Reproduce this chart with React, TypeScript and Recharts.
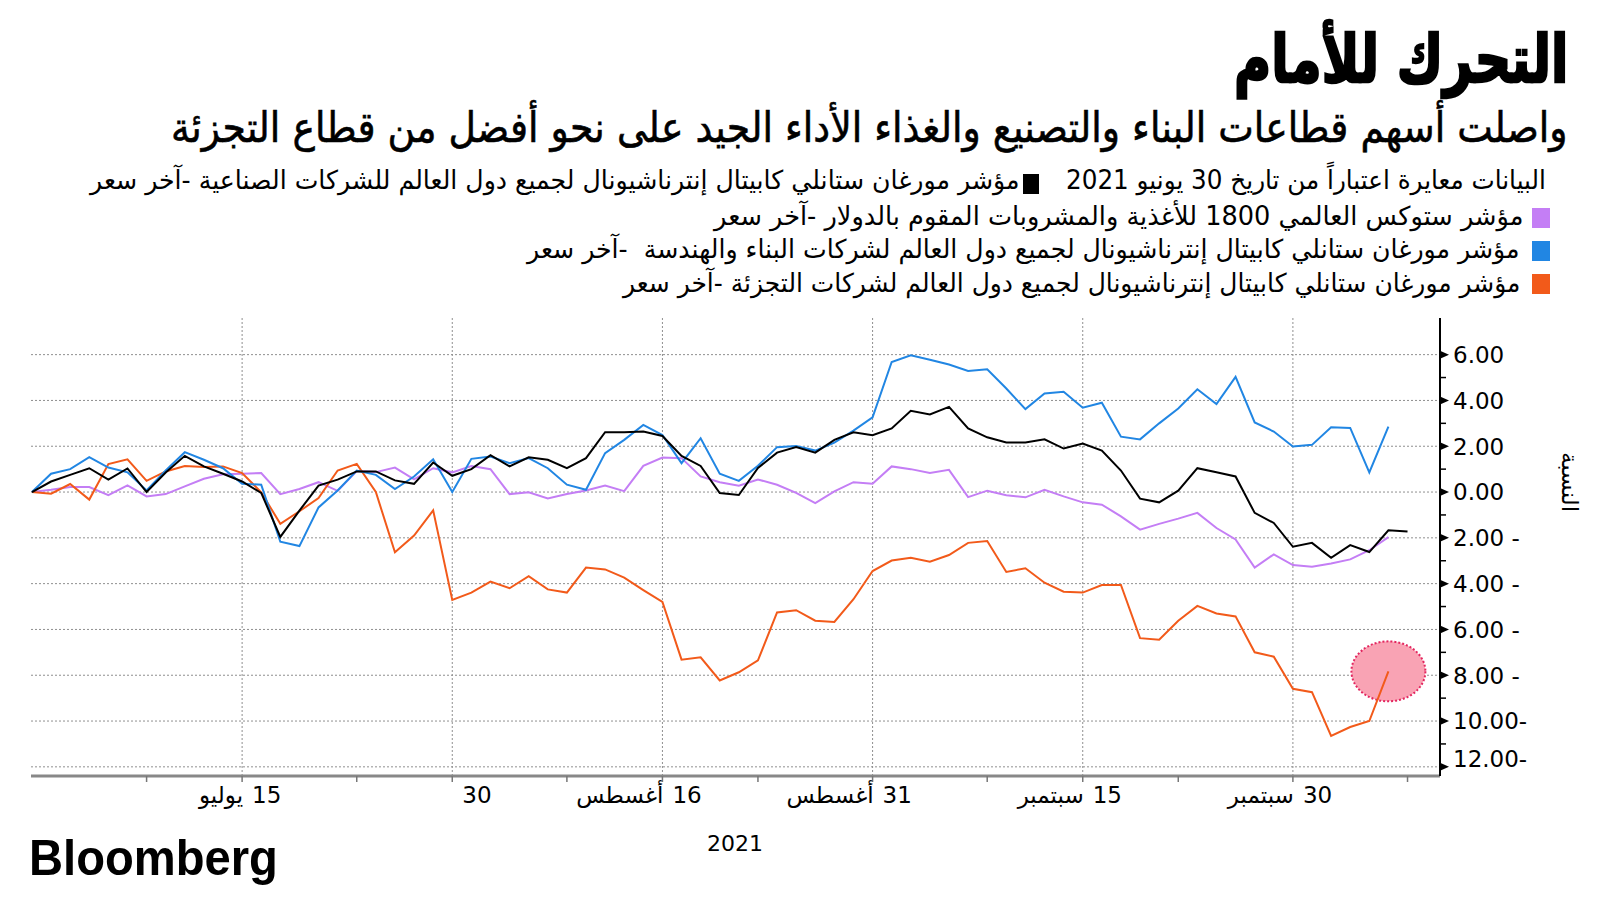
import React, { useLayoutEffect, useRef, useState } from "react";
import { LineChart, Line, XAxis, YAxis, CartesianGrid, ReferenceDot } from "recharts";

const FONT = "'DejaVu Sans', sans-serif";

// % change since 30 Jun 2021, one value per trading day (index 0 = 30 Jun)
const industrials = [
  0, 0.46, 0.75, 1.04, 0.54, 1.03, 0.0, 0.85, 1.58, 1.12, 0.8, 0.46, -0.04, -1.96, -0.81, 0.28, 0.54, 0.9, 0.9, 0.51,
  0.36, 1.29, 0.71, 1.0, 1.61, 1.12, 1.52, 1.41, 1.04, 1.48, 2.61, 2.61, 2.64, 2.45, 1.58, 1.14, -0.04, -0.13, 1.05,
  1.72, 1.96, 1.72, 2.28, 2.61, 2.48, 2.78, 3.55, 3.39, 3.72, 2.78, 2.39, 2.16, 2.16, 2.3, 1.9, 2.12, 1.81, 0.94,
  -0.29, -0.45, 0.06, 1.04, 0.86, 0.68, -0.91, -1.35, -2.39, -2.22, -2.87, -2.32, -2.62, -1.67, -1.72,
];
const foodBev = [
  0, 0.1, 0.22, 0.22, -0.14, 0.29, -0.19, -0.09, 0.25, 0.58, 0.78, 0.8, 0.83, -0.09, 0.13, 0.43, 0.05, 0.92, 0.87, 1.07,
  0.55, 1.04, 0.86, 1.14, 1.0, -0.09, -0.01, -0.28, -0.09, 0.07, 0.28, 0.04, 1.14, 1.51, 1.48, 0.68, 0.43, 0.28, 0.55,
  0.32, -0.04, -0.48, 0.03, 0.43, 0.36, 1.12, 1.0, 0.83, 0.97, -0.22, 0.06, -0.14, -0.23, 0.1, -0.19, -0.45, -0.55,
  -1.06, -1.64, -1.39, -1.16, -0.91, -1.57, -2.07, -3.3, -2.72, -3.19, -3.26, -3.12, -2.94, -2.54, -1.97,
];
const construction = [
  0, 0.8, 1.0, 1.52, 1.07, 0.86, 0.07, 0.94, 1.74, 1.41, 1.04, 0.36, 0.32, -2.17, -2.36, -0.67, 0.07, 0.94, 0.75, 0.13,
  0.68, 1.43, 0, 1.45, 1.55, 1.26, 1.48, 1.04, 0.32, 0.1, 1.7, 2.28, 2.93, 2.49, 1.26, 2.35, 0.8, 0.49, 1.15,
  1.96, 2.01, 1.81, 2.16, 2.68, 3.26, 5.68, 5.97, 5.78, 5.57, 5.29, 5.36, 4.52, 3.62, 4.3, 4.38, 3.68, 3.9, 2.42,
  2.3, 3.0, 3.65, 4.49, 3.84, 5.03, 3.04, 2.64, 1.99, 2.06, 2.83, 2.8, 0.86, 2.86,
];
const retail = [
  0, -0.07, 0.35, -0.33, 1.22, 1.43, 0.49, 0.9, 1.14, 1.09, 1.12, 0.83, -0.01, -1.39, -0.84, -0.26, 0.94, 1.23, 0.0, -2.63,
  -1.9, -0.8, -4.71, -4.39, -3.91, -4.2, -3.67, -4.25, -4.39, -3.3, -3.38, -3.74, -4.28, -4.8, -7.32, -7.22, -8.23, -7.87, -7.35,
  -5.26, -5.16, -5.62, -5.67, -4.68, -3.45, -2.99, -2.87, -3.04, -2.75, -2.22, -2.14, -3.49, -3.33, -3.96, -4.35, -4.39,
  -4.06, -4.06, -6.38, -6.45, -5.62, -4.97, -5.3, -5.43, -7.0, -7.19, -8.59, -8.74, -10.65, -10.26, -10.0, -7.83,
];

const xMajorTicks = [11, 22, 33, 44, 55, 66];
const xMajorDays = ["15", "30", "16", "31", "15", "30"];
const xMajorMonths = ["يوليو", "", "أغسطس", "أغسطس", "سبتمبر", "سبتمبر"];
const xMinorTicks = [6, 17, 28, 38, 50, 60, 72];
const yTicks = [6, 5, 4, 3, 2, 1, 0, -1, -2, -3, -4, -5, -6, -7, -8, -9, -10, -11, -12];
const yGrid = [6, 4, 2, 0, -2, -4, -6, -8, -10, -12];

const legendNames = [
  "مؤشر مورغان ستانلي كابيتال إنترناشيونال لجميع دول العالم للشركات الصناعية -آخر سعر",
  "مؤشر ستوكس العالمي 1800 للأغذية والمشروبات المقوم بالدولار -آخر سعر",
  "مؤشر مورغان ستانلي كابيتال إنترناشيونال لجميع دول العالم لشركات البناء والهندسة  -آخر سعر",
  "مؤشر مورغان ستانلي كابيتال إنترناشيونال لجميع دول العالم لشركات التجزئة -آخر سعر",
];
const legendColors = ["#000000", "#c47ef5", "#2186e3", "#f25a1a"];

const data = industrials.map((v, i) => ({
  i,
  industrials: v,
  foodBev: foodBev[i],
  construction: construction[i],
  retail: retail[i],
}));

function FitText({ text, x, y, width, size, bold = false, stroke = 0, anchor = "right", family = FONT, dir = "rtl" }: any) {
  const ref = useRef<HTMLSpanElement>(null);
  const [scale, setScale] = useState(1);
  useLayoutEffect(() => {
    const w = ref.current ? ref.current.offsetWidth : 0;
    if (w > 0) setScale(width / w);
  }, [text, width, size]);
  const pos = anchor === "right" ? { right: 1600 - x } : { left: x };
  return (
    <span
      ref={ref}
      dir={dir}
      style={{
        position: "absolute",
        top: y - size * 0.7,
        ...pos,
        height: size * 1.4,
        lineHeight: `${size * 1.4}px`,
        fontSize: size,
        fontWeight: bold ? 700 : 400,
        fontFamily: family,
        whiteSpace: "pre",
        color: "#000",
        WebkitTextStroke: stroke ? `${stroke}px #000` : undefined,
        transform: `scaleX(${scale})`,
        transformOrigin: anchor === "right" ? "right center" : "left center",
      }}
    >
      {text}
    </span>
  );
}

function XTick({ x, y, payload }: any) {
  const k = xMajorTicks.indexOf(payload.value);
  return (
    <g>
      <line x1={x} x2={x} y1={y} y2={y + 6} stroke="#777" strokeWidth={1.5} />
      {k >= 0 && (
        <text x={x + 10} y={y + 27} fontSize={23} fontFamily={FONT} fill="#000" textAnchor="start">
          {xMajorDays[k]}
        </text>
      )}
      {k >= 0 && xMajorMonths[k] && (
        <text x={x + 1} y={y + 27} fontSize={23} fontFamily={FONT} fill="#000" textAnchor="end">
          {xMajorMonths[k]}
        </text>
      )}
    </g>
  );
}

function YTick({ x, y, payload }: any) {
  const v = payload.value;
  if (v % 2 !== 0) {
    return <line x1={x} x2={x + 6} y1={y} y2={y} stroke="#000" strokeWidth={1.5} />;
  }
  const ly = v === -12 ? y - 8 : y;
  const a = Math.abs(v).toFixed(2);
  const label = v < 0 ? (Math.abs(v) >= 10 ? `${a}-` : `${a} -`) : a;
  return (
    <g>
      <polygon points={`${x},${y - 4} ${x + 9},${y} ${x},${y + 4}`} fill="#000" />
      <text x={x + 13} y={ly} dy="0.36em" fontSize={23} fontFamily={FONT} fill="#000" textAnchor="start">
        {label}
      </text>
    </g>
  );
}

export default function App() {
  return (
    <div style={{ position: "absolute", left: 0, top: 0, width: 1600, height: 900, background: "#fff", overflow: "hidden", fontFamily: FONT }}>
      <div style={{ position: "absolute", left: 0, top: 0 }}>
        <LineChart width={1600} height={900} data={data} margin={{ top: 318, right: 60, bottom: 64, left: 31 }}>
          <CartesianGrid
            horizontalValues={yGrid}
            verticalValues={xMajorTicks}
            stroke="#8f8f8f"
            strokeDasharray="2 2"
          />
          <XAxis
            dataKey="i"
            type="number"
            domain={[-0.05, 73.7]}
            ticks={[...xMinorTicks, ...xMajorTicks].sort((a, b) => a - b)}
            interval={0}
            tick={<XTick />}
            tickLine={false}
            tickSize={0}
            tickMargin={0}
            height={60}
            axisLine={{ stroke: "#888", strokeWidth: 3 }}
            allowDataOverflow
          />
          <YAxis
            orientation="right"
            type="number"
            domain={[-12.4, 7.6]}
            ticks={yTicks}
            interval={0}
            tick={<YTick />}
            tickLine={false}
            tickSize={0}
            tickMargin={0}
            width={100}
            axisLine={{ stroke: "#000", strokeWidth: 2 }}
            allowDataOverflow
          />
          <ReferenceDot
            x={71}
            y={retail[71]}
            zIndex={300}
            shape={(p: any) => (
              <ellipse cx={p.cx} cy={p.cy} rx={37} ry={30} fill="#f9a3b4" stroke="#e3265f" strokeWidth={2} strokeDasharray="2 2" />
            )}
          />
          <Line dataKey="foodBev" stroke={legendColors[1]} strokeWidth={2} dot={false} isAnimationActive={false} />
          <Line dataKey="retail" stroke={legendColors[3]} strokeWidth={2} dot={false} isAnimationActive={false} />
          <Line dataKey="construction" stroke={legendColors[2]} strokeWidth={2} dot={false} isAnimationActive={false} />
          <Line dataKey="industrials" stroke={legendColors[0]} strokeWidth={2} dot={false} isAnimationActive={false} />
        </LineChart>
      </div>

      <FitText text="التحرك للأمام" x={1568} y={60} width={334} size={66} bold stroke={2.5} />
      <FitText text="واصلت أسهم قطاعات البناء والتصنيع والغذاء الأداء الجيد على نحو أفضل من قطاع التجزئة" x={1568} y={128} width={1397} size={42} stroke={0.6} />

      <FitText text="البيانات معايرة اعتباراً من تاريخ 30 يونيو 2021" x={1546} y={180} width={480} size={26} />
      <div style={{ position: "absolute", left: 1023, top: 174, width: 16, height: 20, background: legendColors[0] }} />
      <FitText text={legendNames[0]} x={1020} y={180} width={930} size={26} />

      <div style={{ position: "absolute", left: 1532, top: 208, width: 18, height: 20, background: legendColors[1] }} />
      <FitText text={legendNames[1]} x={1523} y={216} width={809} size={26} />
      <div style={{ position: "absolute", left: 1532, top: 241, width: 18, height: 20, background: legendColors[2] }} />
      <FitText text={legendNames[2]} x={1520} y={249} width={993} size={26} />
      <div style={{ position: "absolute", left: 1532, top: 274, width: 18, height: 20, background: legendColors[3] }} />
      <FitText text={legendNames[3]} x={1520} y={283} width={897} size={26} />

      <div
        dir="rtl"
        style={{
          position: "absolute",
          left: 1570,
          top: 482,
          transform: "translate(-50%, -50%) rotate(90deg)",
          fontSize: 23,
          fontFamily: FONT,
          whiteSpace: "nowrap",
          color: "#000",
        }}
      >
        النسبة
      </div>

      <div style={{ position: "absolute", left: 735, top: 843, transform: "translate(-50%, -50%)", fontSize: 22, fontFamily: FONT, color: "#000" }}>
        2021
      </div>
      <FitText text="Bloomberg" x={29} y={858} width={249} size={50} bold anchor="left" dir="ltr" family="'Liberation Sans', Arial, sans-serif" />
    </div>
  );
}
